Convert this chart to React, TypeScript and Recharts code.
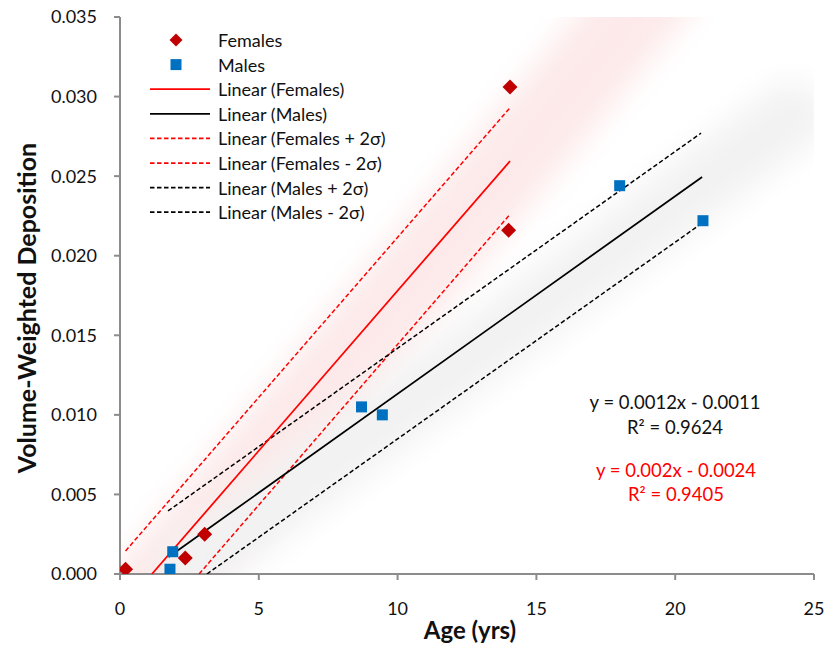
import React from "react";
import { ScatterChart, Scatter, XAxis, YAxis, ReferenceLine } from "recharts";

// measured points
const femalesAge = [0.2, 2.35, 3.05, 14.05, 14.0];
const femalesDep = [0.0003, 0.001, 0.0025, 0.0306, 0.0216];
const malesAge = [1.8, 1.9, 8.7, 9.45, 18.0, 21.0];
const malesDep = [0.0003, 0.0014, 0.0105, 0.01, 0.0244, 0.0222];

// trend line end points [x0, y0, x1, y1]
const linFemales = [1.15, 0, 14.05, 0.02595];
const linMales = [1.75, 0.00107, 20.97, 0.02495];
const linFemalesPlus = [0.2, 0.00145, 14.05, 0.0293];
const linFemalesMinus = [2.85, 0, 14.05, 0.0226];
const linMalesPlus = [1.73, 0.00396, 20.93, 0.0277];
const linMalesMinus = [3.13, 0, 20.97, 0.02205];

// soft uncertainty bands (centre line) [x0, y0, x1, y1]
const bandFemales = [1.0, -0.0015, 19.6, 0.0375];
const bandMales = [2.6, 0.0005, 24.2, 0.0288];

const xTicks = [0, 5, 10, 15, 20, 25];
const yTicks = [0, 0.005, 0.01, 0.015, 0.02, 0.025, 0.03, 0.035];

const legendLabels = [
  "Females",
  "Males",
  "Linear (Females)",
  "Linear (Males)",
  "Linear (Females + 2σ)",
  "Linear (Females - 2σ)",
  "Linear (Males + 2σ)",
  "Linear (Males - 2σ)",
];

const FONT = "Lato, 'Noto Sans', sans-serif";
const AXIS = "#8c8c8c";
const RED = "#ff0000";
const DARKRED = "#c00000";
const BLUE = "#0070c0";

const toPoints = (xs: number[], ys: number[]) => xs.map((x, i) => ({ x, y: ys[i] }));
const seg = (l: number[]) => [
  { x: l[0], y: l[1] },
  { x: l[2], y: l[3] },
];

const females = toPoints(femalesAge, femalesDep);
const males = toPoints(malesAge, malesDep);

const Diamond = (p: any) => (
  <polygon
    points={`${p.cx},${p.cy - 7.5} ${p.cx + 7.5},${p.cy} ${p.cx},${p.cy + 7.5} ${p.cx - 7.5},${p.cy}`}
    fill={DARKRED}
  />
);
const Square = (p: any) => <rect x={p.cx - 5.5} y={p.cy - 5.5} width={11} height={11} fill={BLUE} />;
const NoDot = () => <g />;

const bandShape = (color: string, width: number, filterId: string) => (p: any) =>
  (
    <line
      x1={p.x1}
      y1={p.y1}
      x2={p.x2}
      y2={p.y2}
      stroke={color}
      strokeWidth={width}
      strokeLinecap="round"
      filter={`url(#${filterId})`}
      clipPath={p.clipPath}
    />
  );

const dashed = "4.5 2.5";
const legendLine = [
  null,
  null,
  { stroke: RED, dash: undefined },
  { stroke: "#000", dash: undefined },
  { stroke: RED, dash: dashed },
  { stroke: RED, dash: dashed },
  { stroke: "#000", dash: dashed },
  { stroke: "#000", dash: dashed },
];

export default function App() {
  return (
    <div style={{ position: "absolute", left: 0, top: 0, width: 827, height: 645, background: "#fff", fontFamily: FONT }}>
      <svg width={0} height={0} style={{ position: "absolute" }}>
        <defs>
          <filter id="blurBand" x="-50%" y="-50%" width="200%" height="200%">
            <feGaussianBlur stdDeviation="15" />
          </filter>
        </defs>
      </svg>
      <ScatterChart width={827} height={645} margin={{ top: 17, right: 13, bottom: 0, left: 0 }}>
        <XAxis
          type="number"
          dataKey="x"
          domain={[0, 25]}
          ticks={xTicks}
          allowDataOverflow
          height={71}
          tickSize={6}
          tickMargin={22}
          stroke={AXIS}
          strokeWidth={2}
          tick={{ fill: "#111", fontSize: 18, fontFamily: FONT }}
        />
        <YAxis
          type="number"
          dataKey="y"
          domain={[0, 0.035]}
          ticks={yTicks}
          allowDataOverflow
          width={120}
          tickSize={6}
          tickMargin={17}
          stroke={AXIS}
          strokeWidth={2}
          tickFormatter={(v: number) => v.toFixed(3)}
          tick={{ fill: "#111", fontSize: 18, fontFamily: FONT }}
        />
        <ReferenceLine
          segment={seg(bandFemales)}
          ifOverflow="hidden"
          shape={bandShape("#fde9e9", 84, "blurBand")}
        />
        <ReferenceLine
          segment={seg(bandMales)}
          ifOverflow="hidden"
          shape={bandShape("#f2f2f2", 66, "blurBand")}
        />
        <Scatter data={seg(linFemalesPlus)} shape={NoDot} line={{ stroke: RED, strokeWidth: 1.5, strokeDasharray: dashed }} isAnimationActive={false} />
        <Scatter data={seg(linFemalesMinus)} shape={NoDot} line={{ stroke: RED, strokeWidth: 1.5, strokeDasharray: dashed }} isAnimationActive={false} />
        <Scatter data={seg(linMalesPlus)} shape={NoDot} line={{ stroke: "#000", strokeWidth: 1.5, strokeDasharray: dashed }} isAnimationActive={false} />
        <Scatter data={seg(linMalesMinus)} shape={NoDot} line={{ stroke: "#000", strokeWidth: 1.5, strokeDasharray: dashed }} isAnimationActive={false} />
        <Scatter data={seg(linFemales)} shape={NoDot} line={{ stroke: RED, strokeWidth: 1.75 }} isAnimationActive={false} />
        <Scatter data={seg(linMales)} shape={NoDot} line={{ stroke: "#000", strokeWidth: 1.75 }} isAnimationActive={false} />
        <Scatter data={females} shape={Diamond} isAnimationActive={false} />
        <Scatter data={males} shape={Square} isAnimationActive={false} />
      </ScatterChart>

      {/* titles, legend and equations */}
      <svg width={827} height={645} style={{ position: "absolute", left: 0, top: 0, pointerEvents: "none" }} fontFamily={FONT}>
        <text x={470} y={629} textAnchor="middle" dominantBaseline="central" fontSize={24} fontWeight={700} fill="#111">
          Age (yrs)
        </text>
        <text
          transform="translate(26, 308) rotate(-90)"
          textAnchor="middle"
          dominantBaseline="central"
          fontSize={25}
          fontWeight={700}
          fill="#111"
        >
          Volume-Weighted Deposition
        </text>

        {legendLabels.map((label, i) => {
          const cy = 40 + i * 24.6;
          const ln = legendLine[i];
          return (
            <g key={label}>
              {i === 0 && (
                <polygon points={`176,${cy - 6.5} 182.5,${cy} 176,${cy + 6.5} 169.5,${cy}`} fill={DARKRED} />
              )}
              {i === 1 && <rect x={170.5} y={cy - 5.5} width={11} height={11} fill={BLUE} />}
              {ln && (
                <line x1={150} y1={cy} x2={210} y2={cy} stroke={ln.stroke} strokeWidth={1.75} strokeDasharray={ln.dash} />
              )}
              <text x={218} y={cy} dominantBaseline="central" fontSize={18} fill="#111">
                {label}
              </text>
            </g>
          );
        })}

        <text x={675} y={402} textAnchor="middle" dominantBaseline="central" fontSize={18.5} fill="#111">
          y = 0.0012x - 0.0011
        </text>
        <text x={675} y={427} textAnchor="middle" dominantBaseline="central" fontSize={18.5} fill="#111">
          R² = 0.9624
        </text>
        <text x={676} y={470} textAnchor="middle" dominantBaseline="central" fontSize={18.5} fill={RED}>
          y = 0.002x - 0.0024
        </text>
        <text x={676} y={494} textAnchor="middle" dominantBaseline="central" fontSize={18.5} fill={RED}>
          R² = 0.9405
        </text>
      </svg>
    </div>
  );
}
